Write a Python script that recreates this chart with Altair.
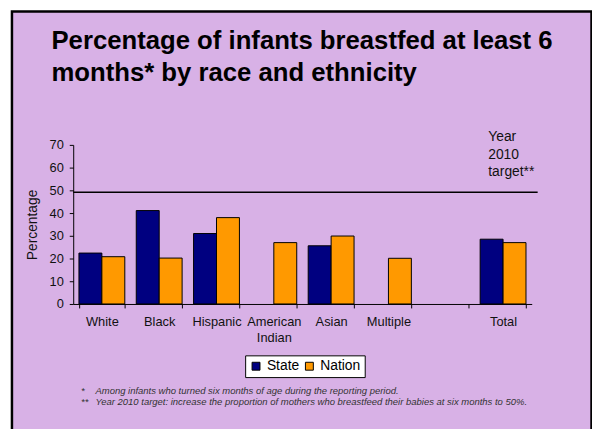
import altair as alt
import pandas as pd

CATS = ["White", "Black", "Hispanic", "American Indian", "Asian", "Multiple", " ", "Total"]
STATE = [22.4, 41.1, 31.0, None, 25.6, None, None, 28.5]
NATION = [20.8, 20.2, 38.0, 27.0, 29.9, 20.1, None, 27.0]
SERIES = ["State", "Nation"]
COLORS = ["#000080", "#FF9900"]
TARGET = 49.2
TARGET_LABEL = ["Year", "2010", "target**"]
TITLE = ["Percentage of infants breastfed at least 6", "months* by race and ethnicity"]
NOTE_MARKS = ["*", "**"]
NOTES = [
    "Among infants who turned six months of age during the reporting period.",
    "Year 2010 target: increase the proportion of mothers who breastfeed their babies at six months to 50%.",
]
Y_TICKS = [0, 10, 20, 30, 40, 50, 60, 70]

BG = "#D8B1E6"
FONT = "Liberation Sans, Arial, sans-serif"

rows = []
for c, s, n in zip(CATS, STATE, NATION):
    if s is not None:
        rows.append({"cat": c, "series": "State", "value": s})
    if n is not None:
        rows.append({"cat": c, "series": "Nation", "value": n})
df = pd.DataFrame(rows)
one = pd.DataFrame({"t": [TARGET]})

yscale = alt.Scale(domain=[0, 70], nice=False)
yaxis = alt.Axis(
    title="Percentage",
    titleFontSize=14,
    titleFontWeight="normal",
    titleColor="#111",
    titlePadding=10,
    values=Y_TICKS,
    labelOverlap=False,
    labelFontSize=13,
    labelColor="#111",
    labelPadding=6,
    tickSize=4,
    tickColor="black",
    domainColor="black",
    grid=False,
    zindex=1,
)

frame = alt.Chart(one).mark_rect(
    fill=BG, stroke="black", strokeWidth=2.5, clip=False
).encode(
    x=alt.value(-62), x2=alt.value(524.5), y=alt.value(-135), y2=alt.value(320)
)

title_text = alt.Chart(one).mark_text(
    text=TITLE, align="left", baseline="alphabetic", fontSize=26,
    fontWeight="bold", lineHeight=32, color="black", x=-22, y=-96.6
)

bars = alt.Chart(df).mark_bar(stroke="black", strokeWidth=1).encode(
    x=alt.X(
        "cat:N",
        scale=alt.Scale(domain=CATS, paddingInner=0.2, paddingOuter=0.1),
        axis=alt.Axis(
            title=None,
            labelAngle=0,
            labelFontSize=13,
            labelColor="#111",
            labelPadding=8,
            labelLineHeight=16,
            labelOverlap=False,
            labelExpr="datum.label == 'American Indian' ? ['American', 'Indian'] : datum.label",
            tickBand="extent",
            tickSize=4,
            tickColor="black",
            domainColor="black",
            zindex=1,
        ),
    ),
    xOffset=alt.XOffset("series:N", scale=alt.Scale(domain=SERIES, paddingInner=0, paddingOuter=0)),
    y=alt.Y("value:Q", scale=yscale, axis=yaxis),
    color=alt.Color(
        "series:N",
        scale=alt.Scale(domain=SERIES, range=COLORS),
        legend=alt.Legend(
            title=None,
            orient="none",
            legendX=174,
            legendY=213,
            direction="horizontal",
            fillColor="white",
            strokeColor="black",
            padding=4,
            symbolType="square",
            symbolSize=64,
            symbolStrokeColor="black",
            symbolStrokeWidth=1,
            labelFontSize=14,
            labelColor="black",
            labelOffset=4,
            columnPadding=3,
            zindex=1,
        ),
    ),
)

target = alt.Chart(one).mark_rule(color="black", strokeWidth=1.5).encode(
    y=alt.Y("t:Q", scale=yscale, axis=yaxis), x=alt.value(0), x2=alt.value(470)
)

target_text = alt.Chart(one).mark_text(
    text=TARGET_LABEL, align="left", baseline="alphabetic", fontSize=14,
    lineHeight=17.7, color="#111", x=420, y=-3.6
)

note_marks = alt.Chart(one).mark_text(
    text=NOTE_MARKS, align="left", baseline="alphabetic", fontSize=9.6,
    fontStyle="italic", lineHeight=11, color="#333", x=8, y=252.5
)
note_text = alt.Chart(one).mark_text(
    text=NOTES, align="left", baseline="alphabetic", fontSize=9.6,
    fontStyle="italic", lineHeight=11, color="#333", x=22.5, y=252.5
)

chart = alt.layer(
    frame, title_text, bars, target, target_text, note_marks, note_text
).properties(
    width=464,
    height=161,
    autosize="none",
    padding={"left": 66, "top": 136, "right": 61, "bottom": 124},
    background="white",
).configure(font=FONT).configure_view(stroke=None)

chart.save("out.html", embed_options={"renderer": "svg", "actions": False})
